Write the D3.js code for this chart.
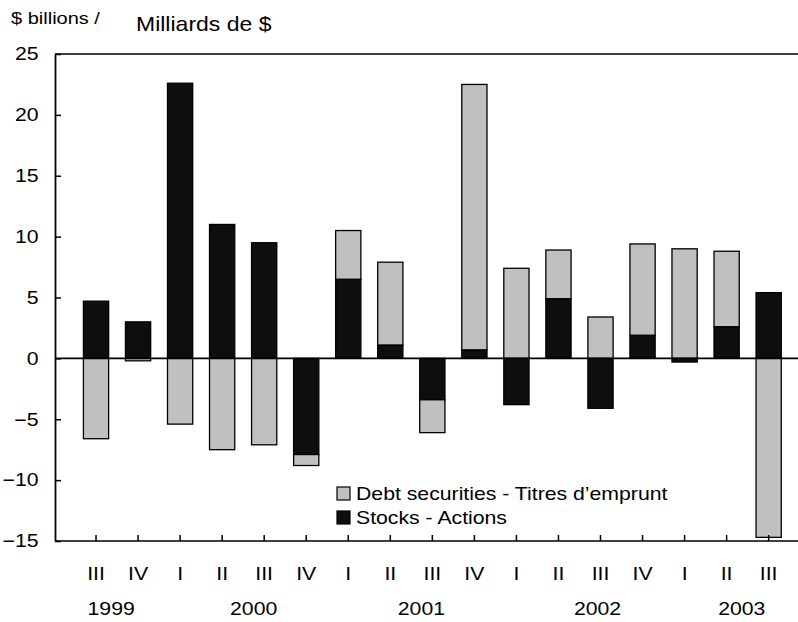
<!DOCTYPE html>
<html>
<head>
<meta charset="utf-8">
<script src="https://cdn.jsdelivr.net/npm/d3@7"></script>
<style>
  body { margin: 0; background: #fff; }
  text { font-family: "Liberation Sans", Arial, sans-serif; fill: #000; }
</style>
</head>
<body>
<div id="chart"></div>
<script>
// quarterly flows, $ billions
const quarters = ["III","IV","I","II","III","IV","I","II","III","IV","I","II","III","IV","I","II","III"];
const years = ["1999", "2000", "2001", "2002", "2003"];
const stocks = [4.7, 3.0, 22.6, 11.0, 9.5, -7.9, 6.5, 1.1, -3.4, 0.7, -3.8, 4.9, -4.1, 1.9, -0.3, 2.6, 5.4];
const debt = [-6.6, -0.2, -5.4, -7.5, -7.1, -0.9, 4.0, 6.8, -2.7, 21.8, 7.4, 4.0, 3.4, 7.5, 9.0, 6.2, -14.7];
const yTicks = [-15, -10, -5, 0, 5, 10, 15, 20, 25];
const seriesNames = ["Debt securities - Titres d\u2019emprunt", "Stocks - Actions"];

const width = 798, height = 622;
const SX = 1.18; // text in the original is drawn a bit wide
const yearAt = [0.36, 3.75, 7.74, 11.93, 15.36]; // year label spot, in quarter units

const svg = d3.select("#chart")
    .append("svg")
    .attr("width", width)
    .attr("height", height);

const rows = quarters.map((q, i) => ({ i: i, stocks: stocks[i], debt: debt[i] }));

const x = d3.scaleBand()
    .domain(d3.range(quarters.length))
    .range([75, 75 + 17 * 42.04])
    .paddingInner(0.4)
    .paddingOuter(0.2);

const y = d3.scaleLinear()
    .domain([-15, 25])
    .range([541, 54]);

const colors = { debt: "#c0c0c0", stocks: "#0e0e0e" };

// stocks sit next to zero, debt stacked beyond, both directions
const stacked = d3.stack()
    .keys(["stocks", "debt"])
    .offset(d3.stackOffsetDiverging)(rows);

svg.append("g")
    .selectAll("g")
    .data(stacked)
    .join("g")
    .attr("fill", d => colors[d.key])
    .selectAll("rect")
    .data(d => d)
    .join("rect")
    .attr("x", d => x(d.data.i))
    .attr("width", x.bandwidth())
    .attr("y", d => y(Math.max(d[0], d[1])))
    .attr("height", d => Math.abs(y(d[0]) - y(d[1])))
    .attr("stroke", "#000")
    .attr("stroke-width", 1.3);

// frame lines: top, zero, bottom
const xLeft = 55, xRight = 798;
svg.append("g")
    .selectAll("line")
    .data([25, 0, -15])
    .join("line")
    .attr("x1", xLeft)
    .attr("x2", xRight)
    .attr("y1", d => y(d))
    .attr("y2", d => y(d))
    .attr("stroke", "#000")
    .attr("stroke-width", 1.6);

// y axis, ticks pointing inward
const yAxis = svg.append("g")
    .attr("transform", `translate(${xLeft},0)`)
    .call(d3.axisLeft(y)
        .tickValues(yTicks)
        .tickSizeInner(-6)
        .tickSizeOuter(0)
        .tickPadding(14)
        .tickFormat(d3.format("d")));

yAxis.select(".domain").attr("stroke-width", 1.8);
yAxis.selectAll(".tick line").attr("stroke-width", 1.5);
yAxis.selectAll("text")
    .attr("font-size", 18)
    .attr("font-family", "Liberation Sans, Arial, sans-serif")
    .attr("transform", `scale(${SX},1)`);

// x axis at the bottom, ticks pointing up
const xAxis = svg.append("g")
    .attr("transform", `translate(0,${y(-15)})`)
    .call(d3.axisBottom(x)
        .tickSizeInner(-6)
        .tickSizeOuter(0)
        .tickPadding(26)
        .tickFormat(i => quarters[i]));

xAxis.select(".domain").remove();
xAxis.selectAll(".tick line").attr("stroke-width", 1.5);
xAxis.selectAll("text")
    .attr("font-size", 18)
    .attr("font-family", "Liberation Sans, Arial, sans-serif")
    .attr("transform", `scale(${SX},1)`);

// year labels
const step = x.step();
svg.append("g")
    .selectAll("text")
    .data(years)
    .join("text")
    .attr("transform", (d, k) => `translate(${x(0) + x.bandwidth() / 2 + yearAt[k] * step},615) scale(${SX},1)`)
    .attr("text-anchor", "middle")
    .attr("font-size", 18)
    .text(d => d);

// unit title
svg.append("text")
    .attr("transform", `translate(11,24) scale(1.25,1)`)
    .attr("font-size", 16)
    .text("$ billions /");

svg.append("text")
    .attr("transform", `translate(136,31) scale(1.15,1)`)
    .attr("font-size", 20)
    .text("Milliards de $");

// legend
const legend = svg.append("g")
    .attr("transform", "translate(337,487)")
    .selectAll("g")
    .data(seriesNames)
    .join("g")
    .attr("transform", (d, k) => `translate(0,${k * 24})`);

legend.append("rect")
    .attr("width", 13)
    .attr("height", 13)
    .attr("fill", (d, k) => k === 0 ? colors.debt : colors.stocks)
    .attr("stroke", "#000")
    .attr("stroke-width", 1.2);

legend.append("text")
    .attr("transform", `translate(19,12.5) scale(${SX},1)`)
    .attr("font-size", 18)
    .text(d => d);
</script>
</body>
</html>
